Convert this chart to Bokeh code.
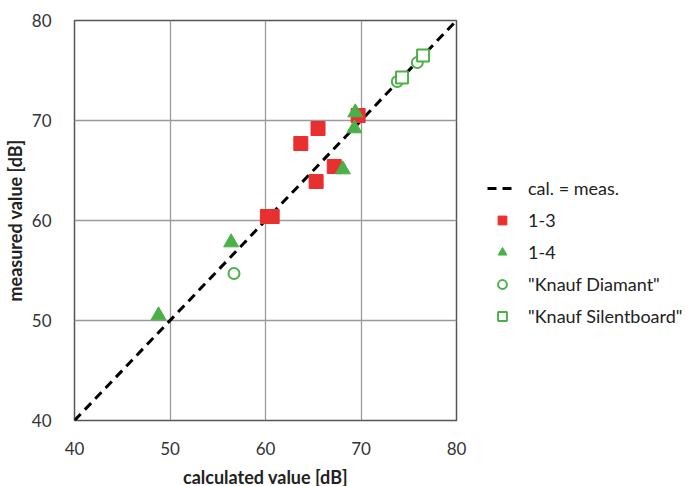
from bokeh.plotting import figure
from bokeh.models import Legend, LegendItem, Range1d, FixedTicker
from bokeh.embed import file_html
from bokeh.resources import INLINE

diag_x = [40, 80]
diag_y = [40, 80]

s13_x = [60.2, 60.7, 63.7, 65.5, 65.3, 67.2, 69.7]
s13_y = [60.4, 60.4, 67.7, 69.2, 63.9, 65.4, 70.5]

s14_x = [48.8, 56.4, 68.1, 69.3, 69.4]
s14_y = [50.5, 57.8, 65.1, 69.2, 70.8]

diam_x = [56.7, 73.8, 75.9]
diam_y = [54.7, 73.9, 75.8]

silent_x = [74.3, 76.5]
silent_y = [74.3, 76.5]

ticks = [40, 50, 60, 70, 80]

FONT = "Lato"
RED = "#e8302f"
GREEN = "#4cb049"

p = figure(frame_width=382, frame_height=400, output_backend="svg", toolbar_location=None,
           x_range=Range1d(40, 80), y_range=Range1d(40, 80),
           min_border_left=60, min_border_right=0, min_border_top=20, min_border_bottom=56)

p.xaxis.ticker = FixedTicker(ticks=ticks)
p.yaxis.ticker = FixedTicker(ticks=ticks)
for ax in (p.xaxis[0], p.yaxis[0]):
    ax.axis_line_color = None
    ax.major_tick_line_color = None
    ax.minor_tick_line_color = None
    ax.major_label_text_font = FONT
    ax.major_label_text_font_size = "17px"
    ax.major_label_text_color = "#333333"
    ax.axis_label_text_font = FONT
    ax.axis_label_text_font_size = "18px"
    ax.axis_label_text_font_style = "bold"
    ax.axis_label_text_color = "#222222"
p.xaxis.axis_label = "calculated value [dB]"
p.yaxis.axis_label = "measured value [dB]"
p.xaxis.major_label_standoff = 15
p.yaxis.major_label_standoff = 17
p.xaxis.axis_label_standoff = 8
p.yaxis.axis_label_standoff = 3

p.xgrid.ticker = FixedTicker(ticks=ticks)
p.ygrid.ticker = FixedTicker(ticks=ticks)
p.grid.grid_line_color = "#9a9a9a"
p.grid.grid_line_width = 1.3
p.outline_line_color = "#555555"
p.outline_line_width = 1.5

r_line = p.line(diag_x, diag_y, line_color="black", line_width=3, line_dash="9 6")
r13 = p.scatter(s13_x, s13_y, marker="square", size=14, fill_color=RED, line_color=RED)
r14 = p.scatter(s14_x, s14_y, marker="triangle", size=15, fill_color=GREEN, line_color=GREEN)
rd = p.scatter(diam_x, diam_y, marker="circle", size=11, fill_color="white", line_color=GREEN, line_width=2)
rs = p.scatter(silent_x, silent_y, marker="square", size=12, fill_color="white", line_color=GREEN, line_width=2)

legend = Legend(items=[
    LegendItem(label="cal. = meas.", renderers=[r_line]),
    LegendItem(label="1-3", renderers=[r13]),
    LegendItem(label="1-4", renderers=[r14]),
    LegendItem(label='"Knauf Diamant"', renderers=[rd]),
    LegendItem(label='"Knauf Silentboard"', renderers=[rs]),
], location=(31, 93), border_line_color=None, background_fill_alpha=0,
    label_text_font=FONT, label_text_font_size="18px", label_text_color="#222222",
    glyph_width=30, glyph_height=22, spacing=10, label_standoff=11, margin=0, padding=0)
p.add_layout(legend, "right")

open("out.html", "w").write(file_html(p, INLINE))
